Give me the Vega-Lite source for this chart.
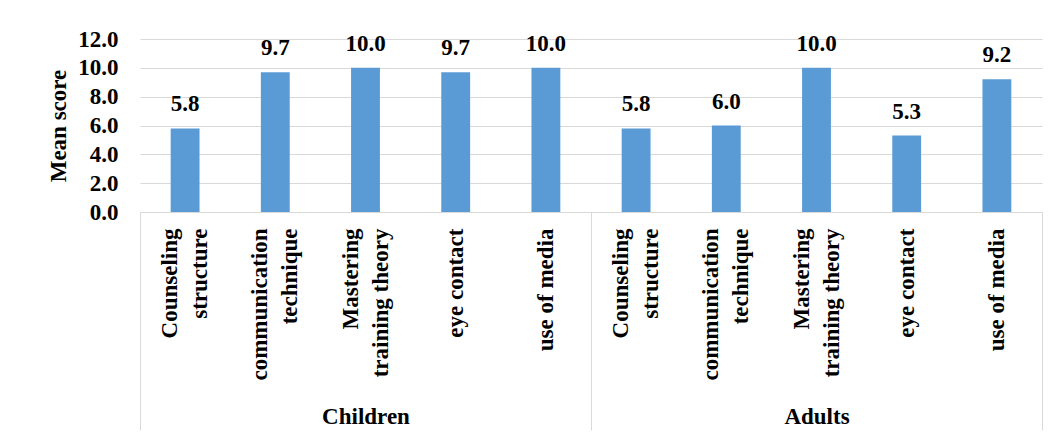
{
  "$schema": "https://vega.github.io/schema/vega-lite/v6.json",
  "width": 902,
  "height": 173,
  "autosize": "none",
  "padding": {"left": 140, "top": 39, "right": 16, "bottom": 225},
  "background": "white",
  "config": {
    "view": {"stroke": null},
    "font": "Liberation Serif",
    "axis": {
      "labelFont": "Liberation Serif",
      "titleFont": "Liberation Serif",
      "labelFontWeight": "bold",
      "titleFontWeight": "bold",
      "labelColor": "black",
      "titleColor": "black"
    }
  },
  "data": {
    "values": [
      {"group": "Children", "key": "Children|Counseling|structure", "score": 5.8},
      {"group": "Children", "key": "Children|communication|technique", "score": 9.7},
      {"group": "Children", "key": "Children|Mastering|training theory", "score": 10.0},
      {"group": "Children", "key": "Children|eye contact", "score": 9.7},
      {"group": "Children", "key": "Children|use of media", "score": 10.0},
      {"group": "Adults", "key": "Adults|Counseling|structure", "score": 5.8},
      {"group": "Adults", "key": "Adults|communication|technique", "score": 6.0},
      {"group": "Adults", "key": "Adults|Mastering|training theory", "score": 10.0},
      {"group": "Adults", "key": "Adults|eye contact", "score": 5.3},
      {"group": "Adults", "key": "Adults|use of media", "score": 9.2}
    ]
  },
  "layer": [
    {
      "encoding": {
        "x": {
          "field": "key",
          "type": "nominal",
          "sort": null,
          "scale": {"paddingInner": 0.68, "paddingOuter": 0.34},
          "axis": {
            "orient": "bottom",
            "title": null,
            "labelAngle": -90,
            "labelExpr": "slice(split(datum.label, '|'), 1)",
            "labelOffset": {"condition": {"test": "length(split(datum.value, '|')) > 2", "value": -15}, "value": 0},
            "ticks": false,
            "domain": true,
            "domainColor": "#d9d9d9",
            "domainWidth": 1,
            "labelFontSize": 23,
            "labelPadding": 16,
            "labelLineHeight": 30,
            "labelLimit": 300,
            "grid": false
          }
        },
        "y": {
          "field": "score",
          "type": "quantitative",
          "scale": {"domain": [0, 12], "nice": false},
          "axis": {
            "title": "Mean score",
            "values": [0, 2, 4, 6, 8, 10, 12],
            "format": ".1f",
            "domain": false,
            "ticks": false,
            "grid": true,
            "gridColor": "#d9d9d9",
            "gridWidth": 1,
            "labelPadding": 22,
            "labelFontSize": 23,
            "titleFontSize": 23,
            "titlePadding": 7
          }
        }
      },
      "layer": [
        {"mark": {"type": "bar", "color": "#5b9bd5"}},
        {
          "mark": {
            "type": "text",
            "baseline": "alphabetic",
            "dy": -17,
            "font": "Liberation Serif",
            "fontWeight": "bold",
            "fontSize": 23,
            "color": "black"
          },
          "encoding": {"text": {"field": "score", "type": "quantitative", "format": ".1f"}}
        }
      ]
    },
    {
      "mark": {"type": "bar", "opacity": 0},
      "encoding": {
        "x": {
          "field": "group",
          "type": "nominal",
          "sort": null,
          "scale": {"paddingInner": 0, "paddingOuter": 0},
          "axis": {
            "orient": "bottom",
            "title": null,
            "domain": false,
            "grid": false,
            "ticks": true,
            "tickBand": "extent",
            "tickSize": 218,
            "tickColor": "#d9d9d9",
            "tickWidth": 1,
            "labelAngle": 0,
            "labelFontSize": 23,
            "labelPadding": -7,
            "labelBaseline": "alphabetic"
          }
        }
      }
    }
  ],
  "resolve": {"scale": {"x": "independent"}, "axis": {"x": "independent"}}
}
